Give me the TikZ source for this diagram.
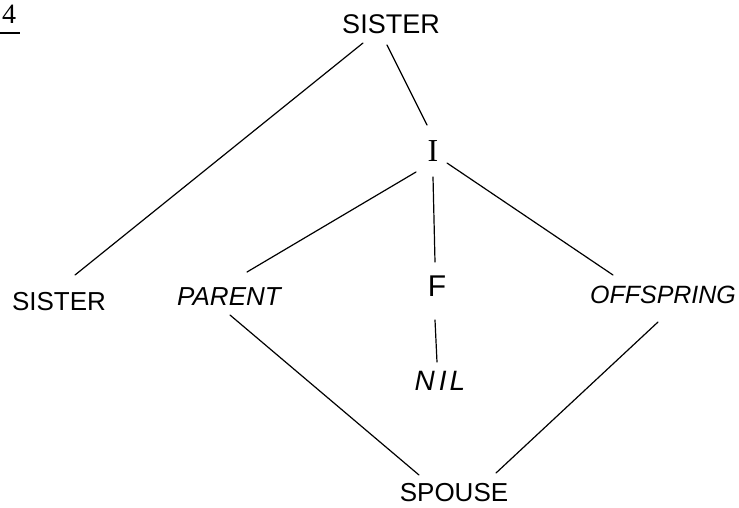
\documentclass[tikz,border=0pt]{standalone}
\usepackage{fontspec}
\setmainfont{Liberation Sans}
\newfontfamily\serifI{Liberation Serif}
\begin{document}
\begin{tikzpicture}[x=1pt,y=-1pt,
  lbl/.style={inner sep=0pt,font=\fontsize{26}{28}\selectfont},
  edge/.style={line width=1.2pt,line cap=round}]
\useasboundingbox (0,0) rectangle (739,507);
% labels
\node[inner sep=0pt,font=\fontsize{28}{30}\selectfont\serifI] (four) at (9,14) {4};
\node[lbl,font=\fontsize{27}{29}\selectfont] (top) at (391,24) {SISTER};
\node[inner sep=0pt,font=\fontsize{32}{34}\selectfont\serifI] (I) at (433,151) {I};
\node[lbl] (sisL) at (59,302) {SISTER};
\node[lbl,font=\fontsize{26}{28}\selectfont\itshape] (par) at (229,297) {PARENT};
\node[lbl,font=\fontsize{30}{32}\selectfont] (F) at (437,286) {F};
\node[lbl,font=\fontsize{25}{27}\selectfont\itshape] (off) at (663,295) {OFFSPRING};
\node[lbl,font=\fontsize{28}{30}\selectfont\itshape] (nil) at (440,381) {N\hspace{4pt}I\hspace{3pt}L};
\node[lbl] (sp) at (454,493) {SPOUSE};
% underline of the 4
\draw[line width=1.8pt] ([shift={(-9,19)}]four.center) -- ([shift={(11,19)}]four.center);
% connectors
\draw[edge] ([shift={(-28,19)}]top.center) -- ([shift={(16,-27)}]sisL.center);
\draw[edge] ([shift={(-4,21)}]top.center) -- ([shift={(-6,-26)}]I.center);
\draw[edge] ([shift={(-17,21)}]I.center) -- ([shift={(18,-25)}]par.center);
\draw[edge] ([shift={(0,26)}]I.center) -- ([shift={(-2,-24)}]F.center);
\draw[edge] ([shift={(14,12)}]I.center) -- ([shift={(-50,-20)}]off.center);
\draw[edge] ([shift={(-2,34)}]F.center) -- ([shift={(-3,-19)}]nil.center);
\draw[edge] ([shift={(1,18)}]par.center) -- ([shift={(-35,-18)}]sp.center);
\draw[edge] ([shift={(-5,27)}]off.center) -- ([shift={(42,-20)}]sp.center);
\end{tikzpicture}
\end{document}
